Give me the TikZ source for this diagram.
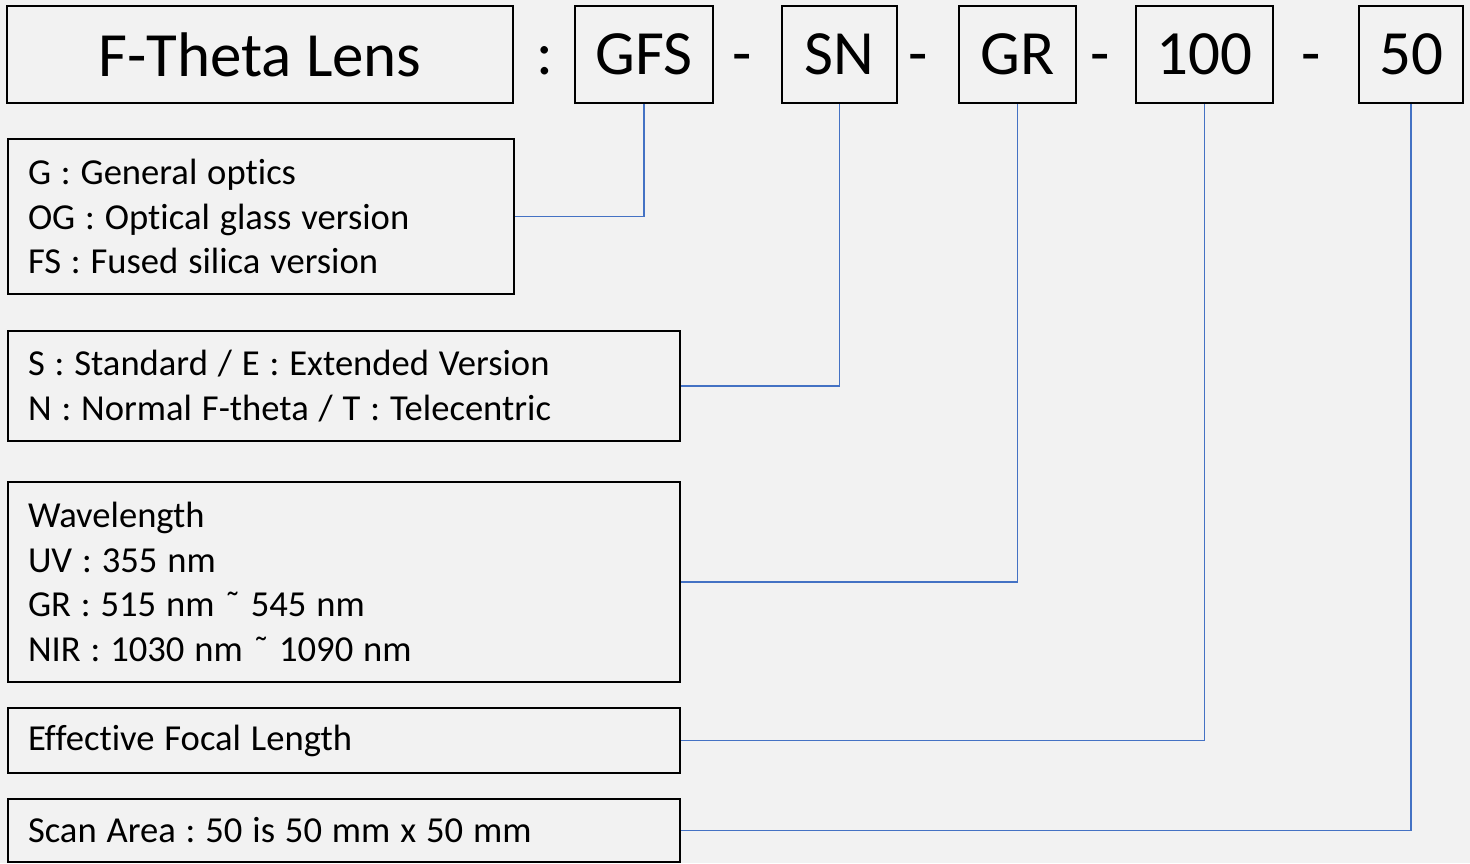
\documentclass[tikz,border=0pt]{standalone}
\usepackage{fontspec}
\setmainfont{Carlito}[Ligatures=NoCommon]
\usetikzlibrary{positioning}
\definecolor{bggray}{HTML}{F2F2F2}
\definecolor{linkblue}{HTML}{4472C4}
\frenchspacing
\newcommand{\hightilde}{\char"02DC}
\newcommand{\descfont}{\fontsize{18.3}{22.2}\selectfont}
\newcommand{\descspacing}{\setlength{\spaceskip}{0.27em}}

\begin{document}
\begin{tikzpicture}[x=0.5pt,y=-0.5pt,
    codebox/.style={draw=black,line width=1pt,inner sep=0pt,minimum height=48.5pt,
        font=\fontsize{31.5}{36}\selectfont},
    descbox/.style={draw=black,line width=1pt,anchor=north west,inner xsep=10pt,inner ysep=0pt,
        align=left,font=\descfont,execute at begin node=\descspacing},
    sepmark/.style={anchor=base,font=\fontsize{31.5}{36}\selectfont},
    link/.style={linkblue,line width=0.8pt}]
\fill[bggray] (0,0) rectangle (1470,863);
\useasboundingbox (0,0) rectangle (1470,863);

% Code line
\node[codebox,minimum width=253pt] (lens) at (260,54.5) {F-Theta Lens};
\node[codebox,minimum width=69pt] (gfs) at (644,54.5) {GFS};
\node[codebox,minimum width=57.5pt] (sn) at (839.5,54.5) {SN};
\node[codebox,minimum width=58.5pt] (gr) at (1017.5,54.5) {GR};
\node[codebox,minimum width=68.5pt] (efl) at (1204.5,54.5) {100};
\node[codebox,minimum width=52pt] (area) at (1411,54.5) {50};

% Colon and dashes between the codes
\node[sepmark] (colon) at (545,0 |- gfs.base) {:};
\foreach \x/\n in {742/dashA,918/dashB,1100/dashC,1311/dashD}
    \node[sepmark] (\n) at (\x,0 |- gfs.base) {-};

% Descriptions
\node[descbox,text width=233pt,minimum height=77.5pt] (optics) at (7,138)
    {G : General optics\\OG : Optical glass version\\FS : Fused silica version};
\node[descbox,text width=316pt,minimum height=55pt] (type) at (7,330)
    {S : Standard / E : Extended Version\\N : Normal F-theta / T : Telecentric};
\node[descbox,text width=316pt,minimum height=100pt] (wave) at (7,481)
    {Wavelength\\UV : 355 nm\\GR : 515 nm \hightilde{} 545 nm\\NIR : 1030 nm \hightilde{} 1090 nm};
\node[descbox,text width=316pt,minimum height=32.5pt] (focal) at (7,707)
    {Effective Focal Length};
\node[descbox,text width=316pt,minimum height=31.5pt] (scan) at (7,798)
    {Scan Area : 50 is 50 mm x 50 mm};

% Links
\draw[link] (gfs.south) |- (optics.east);
\draw[link] (sn.south) |- (type.east);
\draw[link] (gr.south) |- (wave.east);
\draw[link] (efl.south) |- (focal.east);
\draw[link] (area.south) |- (scan.east);
\end{tikzpicture}
\end{document}
